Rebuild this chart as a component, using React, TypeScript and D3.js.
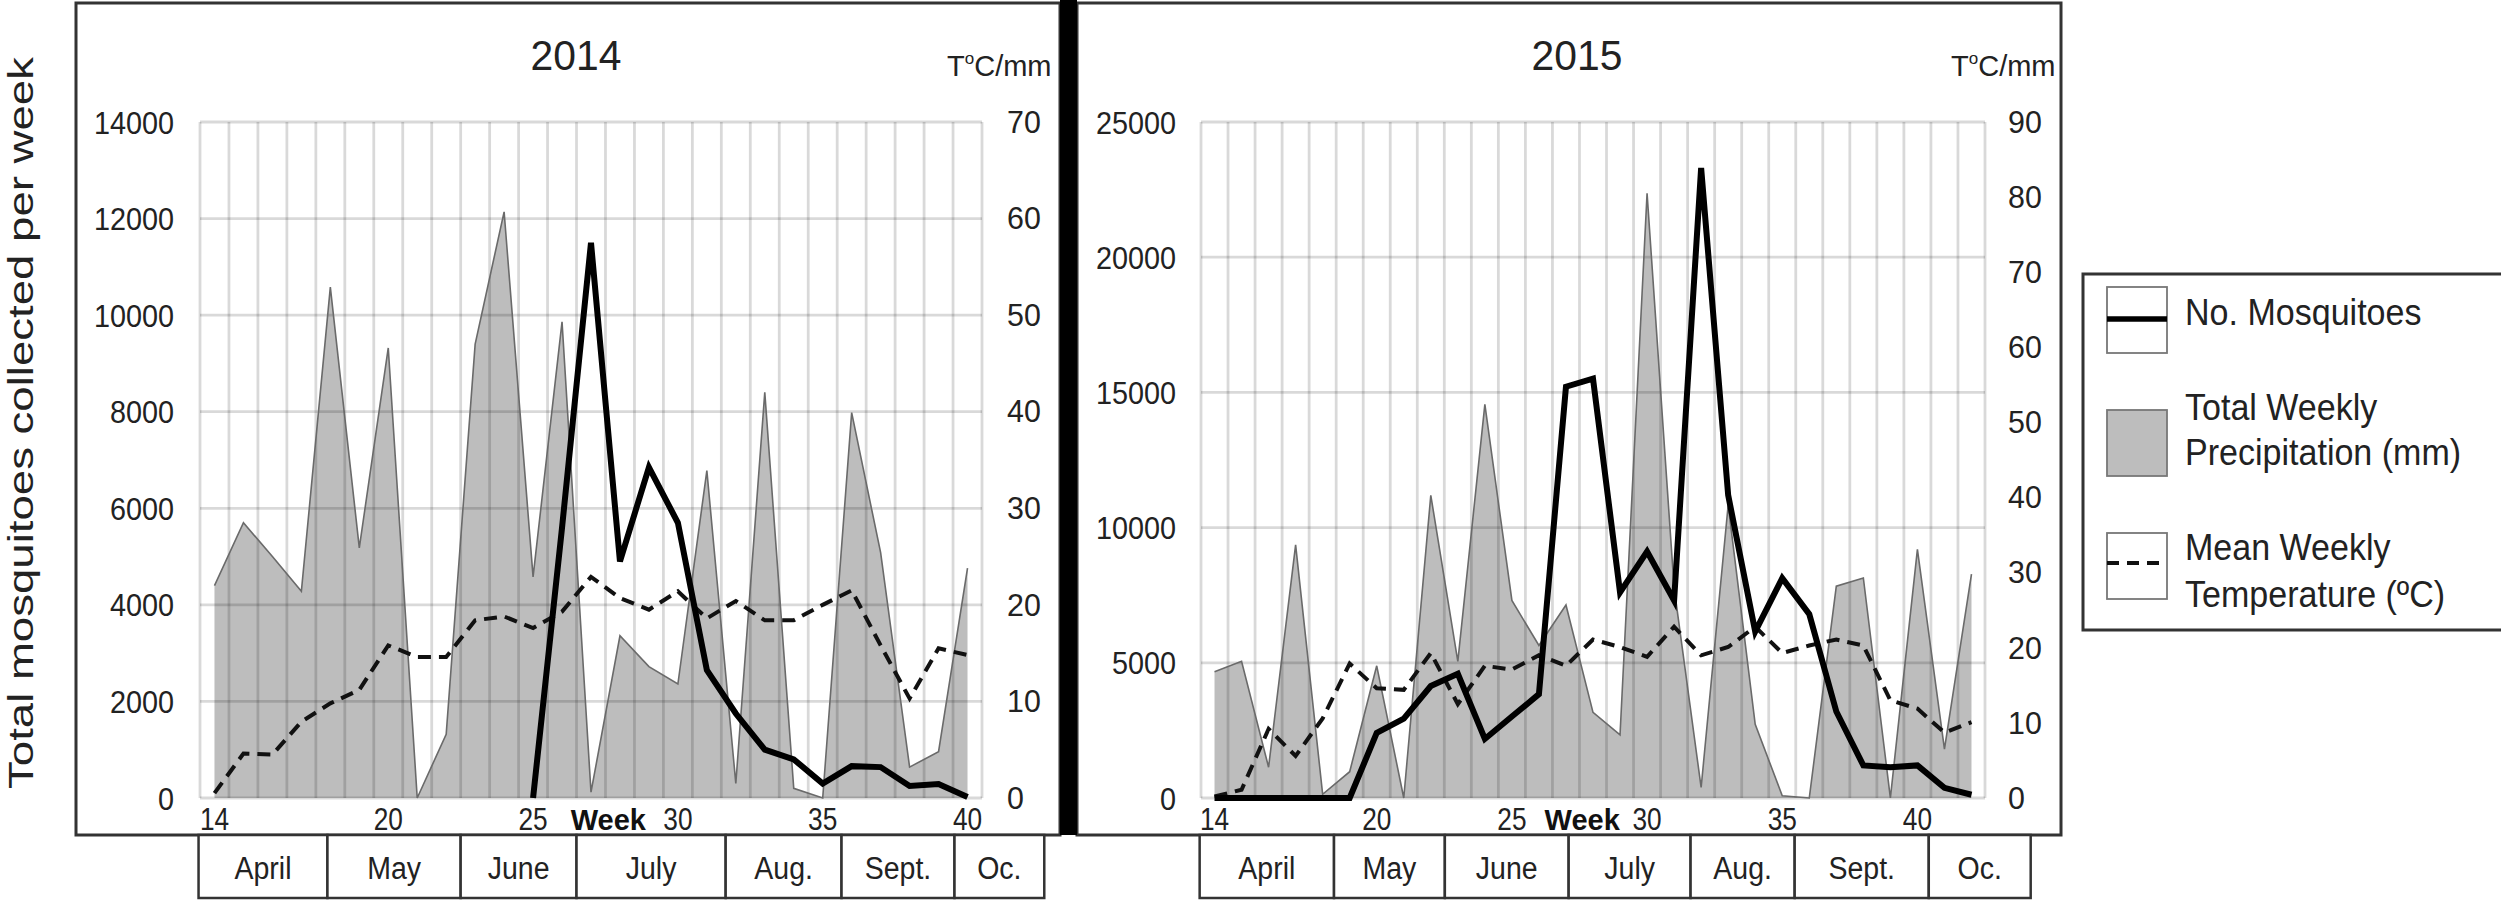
import React from "react";
import * as d3 from "d3";

const FONT = "'Liberation Sans', Arial, Helvetica, sans-serif";
const TEXT = "#222";

// week numbers (x categories)
const weeks2014 = [14, 15, 16, 17, 18, 19, 20, 21, 22, 23, 24, 25, 26, 27, 28, 29, 30, 31, 32, 33, 34, 35, 36, 37, 38, 39, 40];
const weeks2015 = [14, 15, 16, 17, 18, 19, 20, 21, 22, 23, 24, 25, 26, 27, 28, 29, 30, 31, 32, 33, 34, 35, 36, 37, 38, 39, 40, 41, 42];

// 2014 series
const mosquitoes2014: (number | null)[] = [null, null, null, null, null, null, null, null, null, null, null,
    0, 5600, 11500, 4900, 6850, 5700, 2650, 1750, 1000, 800, 300, 660, 640, 250, 290, 20];
const precipitation2014 = [22, 28.5, 25, 21.4, 52.9, 25.9, 46.6, 0, 6.6, 47, 60.7, 22.9, 49.3, 0.6, 16.8, 13.6, 11.8, 33.9, 1.5, 42, 1.0, 0, 39.9, 25.4, 3.2, 4.8, 23.8];
const temperature2014 = [0.5, 4.6, 4.5, 7.9, 9.8, 11.2, 15.8, 14.6, 14.6, 18.4, 18.8, 17.6, 19.3, 22.9, 20.7, 19.5, 21.4, 18.6, 20.4, 18.4, 18.4, 20.0, 21.5, 15.8, 10.3, 15.5, 14.8];

// 2015 series
const mosquitoes2015: (number | null)[] = [0, 0, 0, 0, 0, 0, 2410, 2937, 4142, 4593, 2184, 3012, 3840, 15210, 15512, 7605, 9111, 7304, 23300, 11200, 6150, 8130, 6800, 3200, 1205, 1140, 1205, 376, 120];
const precipitation2015 = [16.8, 18.2, 4.1, 33.7, 0.5, 3.5, 17.6, 0, 40.3, 18.2, 52.4, 26.3, 20.3, 25.7, 11.4, 8.4, 80.5, 28, 1.4, 39, 9.8, 0.3, 0, 28.2, 29.3, 0, 33.1, 6.5, 29.8];
const temperature2015 = [0.2, 1.1, 9.2, 5.6, 10.6, 17.9, 14.6, 14.4, 19.3, 12.5, 17.6, 17.1, 19.0, 17.6, 21.1, 20.1, 18.8, 22.8, 19.0, 20.1, 22.8, 19.3, 20.3, 21.1, 20.3, 13.0, 11.9, 8.7, 10.1];

// month band labels and their edges (in week units)
const months = ["April", "May", "June", "July", "Aug.", "Sept.", "Oc."];
const monthEdges2014 = [13.45, 17.9, 22.5, 26.5, 31.65, 35.65, 39.55, 42.65];
const monthEdges2015 = [13.45, 18.42, 22.52, 27.1, 31.61, 35.46, 40.42, 44.19];

const weekTicks = [14, 20, 25, 30, 35, 40];

const legendItems = [
    { kind: "line", lines: ["No. Mosquitoes"] },
    { kind: "area", lines: ["Total Weekly", "Precipitation (mm)"] },
    { kind: "dash", lines: ["Mean Weekly", "Temperature (\u00baC)"] },
];

const PLOT_TOP = 122;
const PLOT_BOTTOM = 798;
const BOX_TOP = 3;
const BOX_BOTTOM = 835;
const MONTH_BOTTOM = 898;

interface IPanelProps {
    title: string;
    weeks: number[];
    mosquitoes: (number | null)[];
    precipitation: number[];
    temperature: number[];
    monthEdges: number[];
    leftMax: number;
    leftTicks: number;
    rightMax: number;
    rightTicks: number;
    boxLeft: number;
    boxRight: number;
    plotLeft: number;
    plotRight: number;
    leftLabelX: number;
    rightLabelX: number;
    unitX: number;
}

function Panel(p: IPanelProps) {
    const last = p.weeks[p.weeks.length - 1];
    const x = d3.scaleLinear([13.5, last + 0.5], [p.plotLeft, p.plotRight]);
    const yL = d3.scaleLinear([0, p.leftMax], [PLOT_BOTTOM, PLOT_TOP]);
    const yR = d3.scaleLinear([0, p.rightMax], [PLOT_BOTTOM, PLOT_TOP]);

    const gridX = d3.range(13.5, last + 0.51, 1);
    const leftTicks = yL.ticks(p.leftTicks);
    const rightTicks = yR.ticks(p.rightTicks);

    const area = d3.area<number>()
        .x((d, i) => x(p.weeks[i]))
        .y0(yR(0))
        .y1((d) => yR(d));
    const areaEdge = d3.line<number>()
        .x((d, i) => x(p.weeks[i]))
        .y((d) => yR(d));
    const mosqLine = d3.line<number | null>()
        .defined((d) => d !== null)
        .x((d, i) => x(p.weeks[i]))
        .y((d) => yL(d as number));

    const midX = (p.boxLeft + p.boxRight) / 2;

    return <g>
        <rect x={p.boxLeft} y={BOX_TOP} width={p.boxRight - p.boxLeft} height={BOX_BOTTOM - BOX_TOP}
            fill="white" stroke="#333" strokeWidth={3} />

        <text transform={`translate(${midX + 8},70) scale(0.95,1)`} textAnchor="middle" fontSize={43} fill={TEXT}>{p.title}</text>
        <text x={p.unitX} y={76} fontSize={29} fill={TEXT}>
            T<tspan fontSize={17} dy={-12}>o</tspan><tspan dy={12}>C/mm</tspan>
        </text>

        <path d={area(p.precipitation)!} fill="#bdbdbd" />

        {/* grid over the area, semi transparent */}
        <g stroke="#000" strokeOpacity={0.15} strokeWidth={2.8}>
            {gridX.map((g) => (
                <line key={g} x1={x(g)} x2={x(g)} y1={PLOT_TOP} y2={PLOT_BOTTOM} />
            ))}
            {leftTicks.map((t) => (
                <line key={t} x1={p.plotLeft} x2={p.plotRight} y1={yL(t)} y2={yL(t)} />
            ))}
        </g>

        <path d={areaEdge(p.precipitation)!} fill="none" stroke="#6a6a6a" strokeWidth={1.6} />
        <path d={areaEdge(p.temperature)!} fill="none" stroke="#111" strokeWidth={4}
            strokeDasharray="13,8" />
        <path d={mosqLine(p.mosquitoes)!} fill="none" stroke="#000" strokeWidth={6}
            strokeLinejoin="miter" />

        <g fontSize={32} fill={TEXT}>
            {leftTicks.map((t) => (
                <text key={t} transform={`translate(${p.leftLabelX},${yL(t)}) scale(0.9,1)`}
                    textAnchor="end" dominantBaseline="central">{t}</text>
            ))}
            {rightTicks.map((t) => (
                <text key={t} transform={`translate(${p.rightLabelX},${yL(0) - (yL(0) - yR(t))}) scale(0.95,1)`}
                    dominantBaseline="central">{t}</text>
            ))}
            {weekTicks.map((w) => (
                <text key={w} transform={`translate(${x(w)},830) scale(0.82,1)`} textAnchor="middle">{w}</text>
            ))}
        </g>
        <text x={x(27.6)} y={830} textAnchor="middle" fontSize={29} fontWeight="bold" fill="#111">Week</text>

        {months.map((m, i) => {
            const x0 = x(p.monthEdges[i]);
            const x1 = x(p.monthEdges[i + 1]);
            return <g key={m}>
                <rect x={x0} y={BOX_BOTTOM} width={x1 - x0} height={MONTH_BOTTOM - BOX_BOTTOM}
                    fill="white" stroke="#333" strokeWidth={2.5} />
                <text transform={`translate(${(x0 + x1) / 2},879) scale(0.92,1)`} textAnchor="middle"
                    fontSize={31} fill={TEXT}>{m}</text>
            </g>;
        })}
    </g>;
}

function Legend() {
    const left = 2083;
    const top = 274;
    const swX = 2107;
    const swW = 60;
    const textX = 2185;
    const swTops = [287, 410, 533];
    const baselines = [[325], [420, 465], [560, 607]];

    return <g>
        <rect x={left} y={top} width={460} height={356} fill="white" stroke="#333" strokeWidth={3} />
        {legendItems.map((item, i) => {
            const t = swTops[i];
            return <g key={i}>
                <rect x={swX} y={t} width={swW} height={66}
                    fill={item.kind === "area" ? "#bdbdbd" : "white"} stroke="#777" strokeWidth={1.8} />
                {item.kind === "line" &&
                    <line x1={swX} x2={swX + swW} y1={t + 32} y2={t + 32} stroke="#000" strokeWidth={5.5} />}
                {item.kind === "dash" &&
                    <line x1={swX} x2={swX + swW} y1={t + 30} y2={t + 30} stroke="#111" strokeWidth={4}
                        strokeDasharray="12,8" />}
                {item.lines.map((l, j) => (
                    <text key={l} transform={`translate(${textX},${baselines[i][j]}) scale(0.92,1)`}
                        fontSize={37} fill={TEXT}>{l}</text>
                ))}
            </g>;
        })}
    </g>;
}

export default function App() {
    return <div style={{ position: "absolute", left: 0, top: 0 }}>
        <svg width={2501} height={900} style={{ display: "block", background: "white" }} fontFamily={FONT}>
            <rect x={0} y={0} width={2501} height={900} fill="white" />

            <text transform="translate(20,423) rotate(-90)" textAnchor="middle" dominantBaseline="central"
                fontSize={35} textLength={732} lengthAdjust="spacingAndGlyphs" fill={TEXT}>
                Total mosquitoes collected per week
            </text>

            <Panel title="2014" weeks={weeks2014} mosquitoes={mosquitoes2014}
                precipitation={precipitation2014} temperature={temperature2014}
                monthEdges={monthEdges2014}
                leftMax={14000} leftTicks={7} rightMax={70} rightTicks={7}
                boxLeft={76} boxRight={1060} plotLeft={200} plotRight={982}
                leftLabelX={174} rightLabelX={1007} unitX={947} />

            <Panel title="2015" weeks={weeks2015} mosquitoes={mosquitoes2015}
                precipitation={precipitation2015} temperature={temperature2015}
                monthEdges={monthEdges2015}
                leftMax={25000} leftTicks={5} rightMax={90} rightTicks={9}
                boxLeft={1077} boxRight={2061} plotLeft={1201} plotRight={1985}
                leftLabelX={1176} rightLabelX={2008} unitX={1951} />

            <rect x={1060} y={0} width={17} height={BOX_BOTTOM} fill="#000" />

            <Legend />
        </svg>
    </div>;
}
